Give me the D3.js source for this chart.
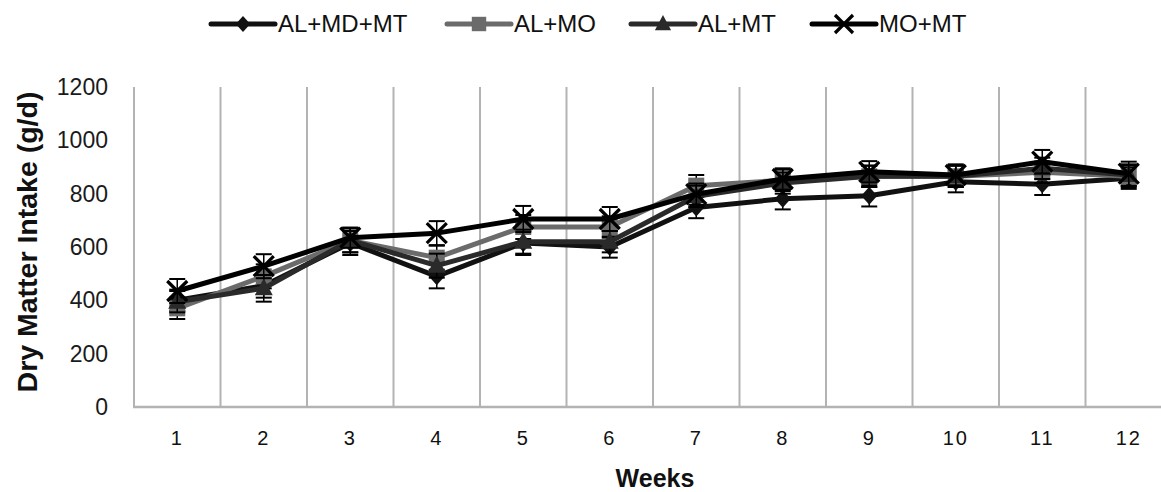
<!DOCTYPE html>
<html><head><meta charset="utf-8">
<script src="https://cdn.jsdelivr.net/npm/d3@7"></script>
<style>body{margin:0;background:#fff}svg{display:block}</style>
</head><body>
<script>
const weeks = [1,2,3,4,5,6,7,8,9,10,11,12];
const seriesNames = ["AL+MD+MT","AL+MO","AL+MT","MO+MT"];
const alMdMt = [400,455,615,490,615,600,748,781,792,845,835,858];
const alMo   = [370,490,625,560,675,675,830,850,865,865,880,865];
const alMt   = [395,445,625,530,620,620,790,840,865,865,895,870];
const moMt   = [435,528,635,652,705,705,798,855,882,870,920,875];
const errAlMdMt = [40,45,45,45,45,40,40,40,40,40,40,40];
const errAlMo   = [40,45,45,45,45,40,40,40,40,40,40,40];
const errAlMt   = [40,50,45,45,45,40,40,40,40,40,40,40];
const errMoMt   = [45,45,38,45,49,45,40,40,40,40,44,45];
const yTicks = [0,200,400,600,800,1000,1200];

const W=1161,H=492;
const FONT="Liberation Sans, Arial, sans-serif";
const svg=d3.select("body").append("svg").attr("width",W).attr("height",H);
const x=d3.scaleBand().domain(weeks).range([134,1172]);
const y=d3.scaleLinear().domain([0,1200]).range([407,87]);

const series=[
 {name:seriesNames[0],vals:alMdMt,err:errAlMdMt,color:"#111111",marker:"diamond"},
 {name:seriesNames[1],vals:alMo,err:errAlMo,color:"#6b6b6b",marker:"square"},
 {name:seriesNames[2],vals:alMt,err:errAlMt,color:"#2a2a2a",marker:"triangle"},
 {name:seriesNames[3],vals:moMt,err:errMoMt,color:"#000000",marker:"x"}
];

// gridlines
const grid=svg.append("g");
const bounds=weeks.map(w=>x(w)).concat([x.range()[1]]);
grid.selectAll("line.v").data(bounds).join("line")
 .attr("x1",d=>d).attr("x2",d=>d).attr("y1",y(1200)).attr("y2",y(0))
 .attr("stroke","#b3b3b3").attr("stroke-width",2);
grid.append("line").attr("x1",133).attr("x2",1172).attr("y1",y(0)).attr("y2",y(0))
 .attr("stroke","#b3b3b3").attr("stroke-width",2.5);

// y axis
const ya=svg.append("g").attr("transform","translate(108,0)")
 .call(d3.axisLeft(y).tickValues(yTicks).tickFormat(d3.format("d")).tickSize(0).tickPadding(0));
ya.select(".domain").remove();
ya.selectAll("text").attr("font-family",FONT).attr("font-size",23).attr("fill","#1a1a1a");

// x axis
const xa=svg.append("g").attr("transform","translate(0,"+y(0)+")")
 .call(d3.axisBottom(x).tickSize(0).tickPadding(24));
xa.select(".domain").remove();
xa.selectAll("text").attr("font-family",FONT).attr("font-size",20)
 .attr("letter-spacing","2px").attr("fill","#111");

// titles
svg.append("text").attr("x",655).attr("y",487).attr("text-anchor","middle")
 .attr("font-family",FONT).attr("font-weight","bold").attr("font-size",25)
 .attr("fill","#111").text("Weeks");
svg.append("text").attr("transform","translate(37,242) rotate(-90)").attr("text-anchor","middle")
 .attr("font-family",FONT).attr("font-weight","bold").attr("font-size",28.5)
 .attr("fill","#111").text("Dry Matter Intake (g/d)");

function drawMarker(g,type,cx,cy,color,scale){
  const s=scale||1;
  if(type==="diamond"){
    g.append("path").attr("d",`M${cx},${cy-9*s}L${cx+8*s},${cy}L${cx},${cy+9*s}L${cx-8*s},${cy}Z`).attr("fill",color);
  } else if(type==="square"){
    g.append("rect").attr("x",cx-8*s).attr("y",cy-8*s).attr("width",16*s).attr("height",16*s).attr("fill",color);
  } else if(type==="triangle"){
    g.append("path").attr("d",`M${cx},${cy-10*s}L${cx+9*s},${cy+7*s}L${cx-9*s},${cy+7*s}Z`).attr("fill",color);
  } else {
    g.append("path").attr("d",`M${cx-10*s},${cy-10*s}L${cx+10*s},${cy+10*s}M${cx+10*s},${cy-10*s}L${cx-10*s},${cy+10*s}`)
     .attr("stroke",color).attr("stroke-width",3.2).attr("fill","none");
  }
}

const cx=w=>x(w)+x.bandwidth()/2;
const line=d3.line().x((d,i)=>cx(weeks[i])).y(d=>y(d));
series.forEach(s=>{
  const g=svg.append("g");
  weeks.forEach((w,i)=>{
    const xx=cx(w),v=s.vals[i],e=s.err[i];
    g.append("line").attr("x1",xx).attr("x2",xx).attr("y1",y(v-e)).attr("y2",y(v+e)).attr("stroke","#000").attr("stroke-width",1.5);
    [v-e,v+e].forEach(t=>g.append("line").attr("x1",xx-8).attr("x2",xx+8).attr("y1",y(t)).attr("y2",y(t)).attr("stroke","#000").attr("stroke-width",2));
  });
  g.append("path").attr("d",line(s.vals)).attr("fill","none").attr("stroke",s.color).attr("stroke-width",5).attr("stroke-linejoin","round");
  weeks.forEach((w,i)=>drawMarker(g,s.marker,cx(w),y(s.vals[i]),s.color));
});

// legend
const legX=[211,447,631,812];
const lg=svg.append("g");
series.forEach((s,i)=>{
  const x0=legX[i];
  lg.append("line").attr("x1",x0).attr("x2",x0+64).attr("y1",24).attr("y2",24).attr("stroke",s.color).attr("stroke-width",5).attr("stroke-linecap","round");
  drawMarker(lg,s.marker,x0+32,24,s.color,0.9);
  lg.append("text").attr("x",x0+67).attr("y",32).attr("font-family",FONT)
   .attr("font-size",24).attr("fill","#111").text(s.name);
});
</script>
</body></html>
